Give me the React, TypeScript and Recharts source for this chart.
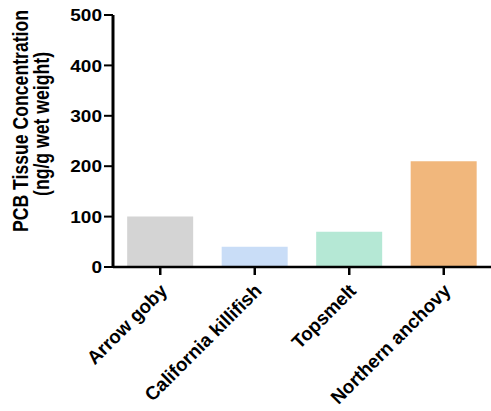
import React from 'react';
import { BarChart, Bar, XAxis, YAxis, Cell } from 'recharts';

const species = ['Arrow goby', 'California killifish', 'Topsmelt', 'Northern anchovy'];
const pcbValues = [100, 40, 70, 210];
const barColors = ['#d4d4d4', '#c9ddf7', '#b5e8d5', '#f1b77c'];
const yTicks = [0, 100, 200, 300, 400, 500];

const data = species.map((name, i) => ({ name, pcb: pcbValues[i] }));

const FONT = '"Liberation Sans", Arial, Helvetica, sans-serif';

// text in the reference looks a bit stretched sideways
function XTick(props: any) {
  const { x, y, payload } = props;
  return (
    <g transform={`translate(${x},${y})`}>
      <text
        x={0}
        y={0}
        textAnchor="end"
        transform="translate(8,15) rotate(-45) scale(1.04,1.05)"
        fontFamily={FONT}
        fontWeight="bold"
        fontSize={18}
        fill="#000"
      >
        {payload.value}
      </text>
    </g>
  );
}

function YTick(props: any) {
  const { x, y, payload } = props;
  return (
    <g transform={`translate(${x},${y}) scale(1.12,1)`}>
      <text
        x={0}
        y={0}
        dy="0.36em"
        textAnchor="end"
        fontFamily={FONT}
        fontWeight="bold"
        fontSize={17}
        fill="#000"
      >
        {payload.value}
      </text>
    </g>
  );
}

function YTitle() {
  return (
    <g fontFamily={FONT} fontWeight="bold" fontSize={18} fill="#000">
      <text x={0} y={0} textAnchor="middle" transform="translate(28,121) rotate(-90) scale(0.98,1.18)">
        PCB Tissue Concentration
      </text>
      <text x={0} y={0} textAnchor="middle" transform="translate(49,124) rotate(-90) scale(0.98,1.18)">
        (ng/g wet weight)
      </text>
    </g>
  );
}

export default function App() {
  return (
    <div style={{ position: 'absolute', left: 0, top: 0, width: 491, height: 411, overflow: 'hidden', background: '#fff' }}>
      <BarChart
        width={491}
        height={411}
        data={data}
        margin={{ top: 15, right: 0, bottom: 14, left: 0 }}
        barCategoryGap="15%"
      >
        <XAxis
          dataKey="name"
          interval={0}
          height={130}
          tick={<XTick />}
          tickSize={8}
          axisLine={{ stroke: '#000', strokeWidth: 2.5 }}
          tickLine={{ stroke: '#000', strokeWidth: 2.5 }}
        />
        <YAxis
          width={113}
          domain={[0, 500]}
          ticks={yTicks}
          interval={0}
          tickSize={9}
          tickMargin={2}
          axisLine={{ stroke: '#000', strokeWidth: 3 }}
          tickLine={{ stroke: '#000', strokeWidth: 2 }}
          tick={<YTick />}
          label={<YTitle />}
        />
        <Bar dataKey="pcb" isAnimationActive={false}>
          {data.map((d, i) => (
            <Cell key={d.name} fill={barColors[i]} />
          ))}
        </Bar>
      </BarChart>
    </div>
  );
}
